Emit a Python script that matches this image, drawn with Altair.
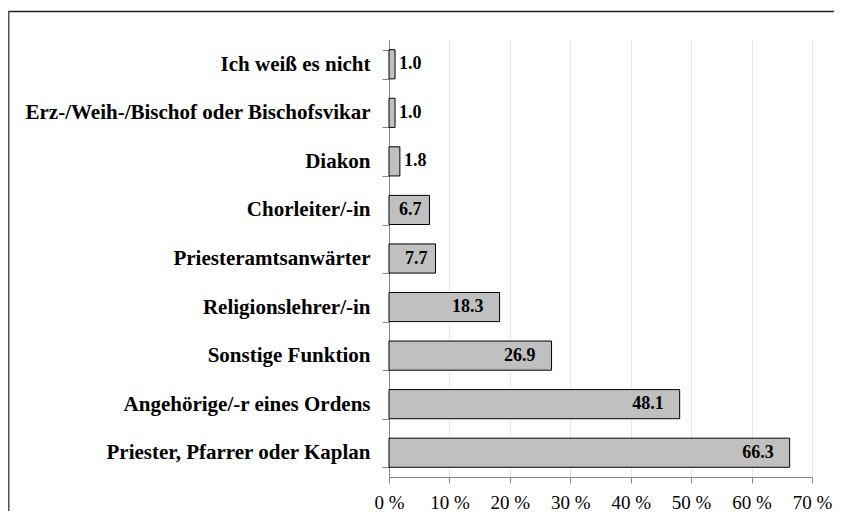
import altair as alt
import pandas as pd

categories = [
    "Ich weiß es nicht",
    "Erz-/Weih-/Bischof oder Bischofsvikar",
    "Diakon",
    "Chorleiter/-in",
    "Priesteramtsanwärter",
    "Religionslehrer/-in",
    "Sonstige Funktion",
    "Angehörige/-r eines Ordens",
    "Priester, Pfarrer oder Kaplan",
]
values = [1.0, 1.0, 1.8, 6.7, 7.7, 18.3, 26.9, 48.1, 66.3]

df = pd.DataFrame({"cat": categories, "val": values})
df["label"] = df["val"].map(lambda v: f"{v:.1f}")

FONT = "'Times New Roman', 'Liberation Serif', Times, serif"

y_enc = alt.Y(
    "cat:N",
    sort=categories,
    title=None,
    scale=alt.Scale(paddingInner=0.4, paddingOuter=0.2),
    axis=alt.Axis(
        tickBand="extent",
        labelFont=FONT,
        labelFontSize=21,
        labelFontWeight="bold",
        labelColor="black",
        labelPadding=12,
        tickSize=7,
        tickColor="#868686",
        domainColor="#868686",
        labelLimit=500,
        grid=False,
    ),
)
x_enc = alt.X(
    "val:Q",
    title=None,
    scale=alt.Scale(domain=[0, 70], nice=False),
    axis=alt.Axis(
        values=[0, 10, 20, 30, 40, 50, 60, 70],
        labelExpr="datum.value + ' %'",
        labelFont=FONT,
        labelFontSize=19,
        labelColor="black",
        labelPadding=10,
        tickSize=6,
        tickColor="#868686",
        domainColor="#868686",
        grid=True,
        gridColor="#e6e6e6",
        labelFlush=False,
    ),
)

bars = alt.Chart(df).mark_bar(color="#c0c0c0", stroke="black", strokeWidth=1).encode(
    x=x_enc, y=y_enc
)

def labels(filt, align, dx):
    return alt.Chart(df).transform_filter(filt).mark_text(
        align=align, dx=dx, font=FONT, fontSize=18, fontWeight="bold", color="black"
    ).encode(x="val:Q", y=alt.Y("cat:N", sort=categories), text="label:N")

text_big = labels("datum.val >= 10", "right", -16)
text_mid = labels("datum.val >= 5 && datum.val < 10", "right", -8)
text_out = labels("datum.val < 5", "left", 4)

frame_df = pd.DataFrame({"f": [0]})
top_line = alt.Chart(frame_df).mark_rule(stroke="#202020", strokeWidth=1.5).encode(
    x=alt.value(-381), x2=alt.value(470), y=alt.value(-28.5)
)
left_line = alt.Chart(frame_df).mark_rule(stroke="#505050", strokeWidth=2).encode(
    x=alt.value(-380.5), y=alt.value(-29), y2=alt.value(520)
)

chart = alt.layer(top_line, left_line, bars, text_big, text_mid, text_out).properties(
    width=423,
    height=437,
    autosize=alt.AutoSizeParams(type="none"),
    padding={"left": 381, "top": 32, "right": 22, "bottom": 34},
).configure_view(stroke=None)

chart.save("out.html", embed_options={"renderer": "svg", "actions": False})
